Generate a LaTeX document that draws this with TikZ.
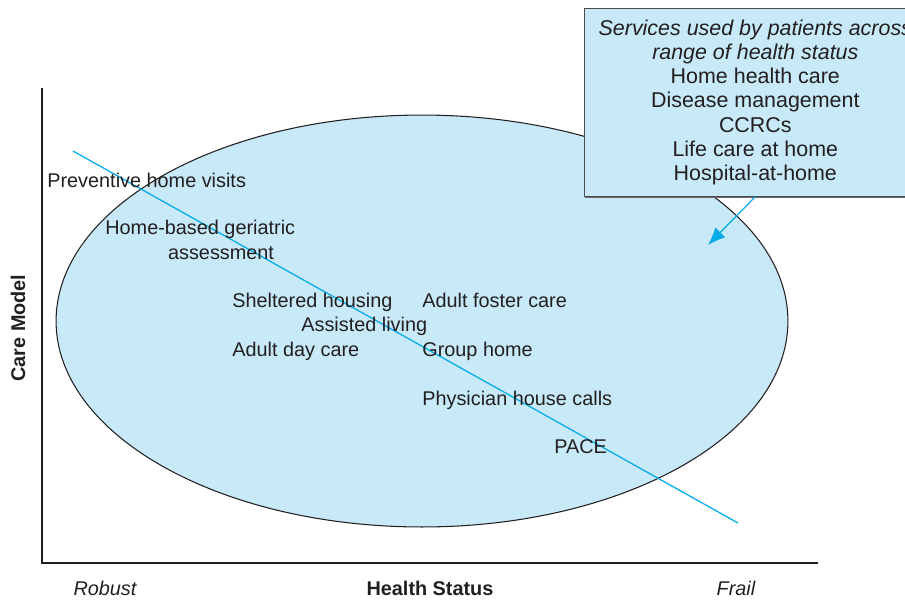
\documentclass[tikz,border=0pt]{standalone}
\usepackage{fontspec}
\setmainfont{Liberation Sans}
\usetikzlibrary{arrows.meta, shadows}
\definecolor{inkcolor}{RGB}{35,31,32}
\definecolor{careblue}{RGB}{200,233,248}
\definecolor{trendblue}{RGB}{0,170,232}

\begin{document}
\begin{tikzpicture}[x=0.02cm, y=-0.02cm]
  \tikzset{
    label/.style={
      anchor=base west,
      inner sep=0pt,
      text=inkcolor,
      font=\fontsize{11.3}{13.8}\selectfont
    },
    axislabel/.style={
      inner sep=0pt,
      text=inkcolor,
      font=\fontsize{11.3}{13.8}\selectfont\bfseries
    },
    endlabel/.style={
      inner sep=0pt,
      text=inkcolor,
      font=\fontsize{11.3}{13.8}\selectfont\itshape
    },
    servicebox/.style={
      draw=inkcolor!80,
      fill=careblue,
      minimum width=6.84cm,
      minimum height=3.76cm,
      align=center,
      text=inkcolor,
      font=\fontsize{12.2}{13.8}\selectfont,
      drop shadow={shadow xshift=0.6pt, shadow yshift=-0.8pt, fill=black!60, opacity=1}
    },
    trend/.style={
      draw=trendblue,
      line width=0.7pt
    }
  }
  \useasboundingbox (0,0) rectangle (905,600);

  % Draw the axes
  \coordinate (origin) at (42,563);
  \coordinate (ytop) at (42,88);
  \coordinate (xend) at (818,563);
  \draw[inkcolor, line width=0.7pt] (ytop) -- (origin) -- (xend);

  % Care model ellipse
  \fill[careblue] (422,321) ellipse [x radius=7.32cm, y radius=4.12cm];
  \draw[inkcolor, line width=0.6pt] (422,321) ellipse [x radius=7.32cm, y radius=4.12cm];

  % Trend line
  \coordinate (trendstart) at (73,151);
  \coordinate (trendend) at (738,523);
  \draw[trend] (trendstart) -- (trendend);

  % Care models
  \node[label] at (47,187) (prevvisits) {Preventive home visits};
  \node[label, align=left] at (105,259) (geriatric) {Home-based geriatric\\\hspace*{35.7pt}assessment};
  \node[label] at (232,307) (sheltered) {Sheltered housing};
  \node[label] at (422,307) (fostercare) {Adult foster care};
  \node[label] at (301,331) (assisted) {Assisted living};
  \node[label] at (232,356) (daycare) {Adult day care};
  \node[label] at (422,356) (grouphome) {Group home};
  \node[label] at (422,405) (housecalls) {Physician house calls};
  \node[label] at (554,453) (pace) {PACE};

  % Services box
  \node[servicebox, anchor=north west] at (584,8) (services) {%
    \textit{Services used by patients across}\\
    \textit{range of health status}\\
    Home health care\\
    Disease management\\
    CCRCs\\
    Life care at home\\
    Hospital-at-home};
  \coordinate (boxtip) at (708,245);
  \draw[trend, -{Latex[length=10pt, width=8pt]}] (services.south) -- (boxtip);

  % Axis labels
  \node[axislabel, rotate=90] at (18,328) (caremodel) {Care Model};
  \node[axislabel] at (430,588) (healthstatus) {Health Status};
  \node[endlabel] at (105,588) (robust) {Robust};
  \node[endlabel] at (736,588) (frail) {Frail};
\end{tikzpicture}
\end{document}
